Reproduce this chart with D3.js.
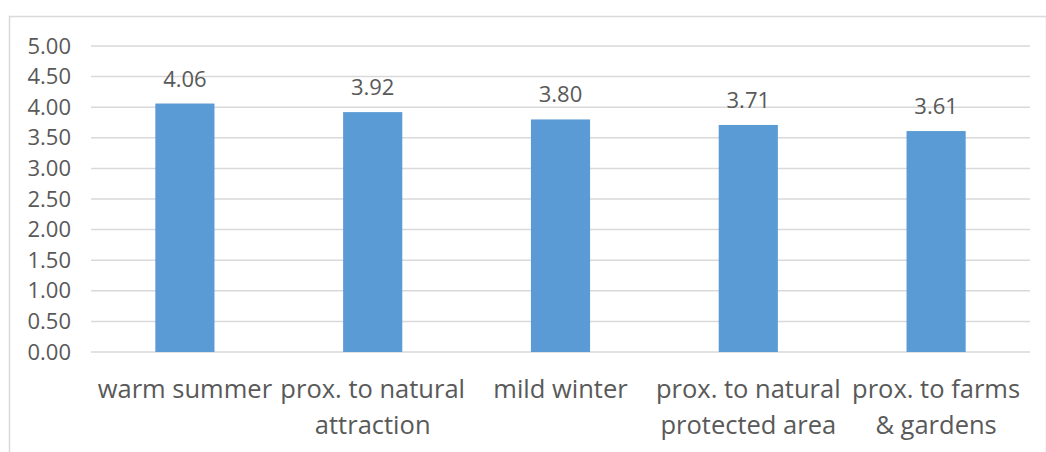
<!DOCTYPE html>
<html>
<head>
<meta charset="utf-8">
<script src="https://cdn.jsdelivr.net/npm/d3@7"></script>
<style>
  html, body { margin: 0; padding: 0; background: #fff; }
  svg { display: block; }
  text { font-family: "Open Sans", "Noto Sans", sans-serif; fill: #595959; }
</style>
</head>
<body>
<svg id="chart" width="1046" height="452"></svg>
<script>
// Mean ratings per attraction factor
const categories = [
  ["warm summer"],
  ["prox. to natural", "attraction"],
  ["mild winter"],
  ["prox. to natural", "protected area"],
  ["prox. to farms", "& gardens"]
];
const values = [4.06, 3.92, 3.80, 3.71, 3.61];
const yTicks = [0, 0.5, 1, 1.5, 2, 2.5, 3, 3.5, 4, 4.5, 5];

const svg = d3.select("#chart");
const W = 1046, H = 452;
const plot = { left: 91, right: 1030, top: 46, bottom: 352 };

// outer chart frame
svg.append("rect")
  .attr("x", 9.5).attr("y", 16.5)
  .attr("width", W - 9).attr("height", H)
  .attr("fill", "none").attr("stroke", "#d9d9d9").attr("stroke-width", 1.5);

const x = d3.scaleBand()
  .domain(d3.range(values.length))
  .range([plot.left, plot.right])
  .paddingInner(0.685).paddingOuter(0.3425);

const y = d3.scaleLinear().domain([0, 5]).range([plot.bottom, plot.top]);

// gridlines
svg.append("g")
  .selectAll("line")
  .data(yTicks)
  .join("line")
  .attr("x1", plot.left).attr("x2", plot.right)
  .attr("y1", d => y(d)).attr("y2", d => y(d))
  .attr("stroke", "#d9d9d9").attr("stroke-width", 1.5);

// y axis labels
const yAxis = d3.axisLeft(y).tickValues(yTicks).tickFormat(d3.format(".2f")).tickSize(0).tickPadding(0);
const yg = svg.append("g").attr("transform", `translate(71,0)`).call(yAxis);
yg.select(".domain").remove();
yg.attr("font-size", 22).attr("font-family", null);
yg.selectAll("text")
  .attr("font-size", 22)
  .attr("fill", "#595959");

// bars
svg.append("g")
  .selectAll("rect")
  .data(values)
  .join("rect")
  .attr("x", (d, i) => x(i))
  .attr("width", x.bandwidth())
  .attr("y", d => y(d))
  .attr("height", d => y(0) - y(d))
  .attr("fill", "#5b9bd5");

// value labels
svg.append("g")
  .selectAll("text")
  .data(values)
  .join("text")
  .attr("x", (d, i) => x(i) + x.bandwidth() / 2)
  .attr("y", d => y(d) - 17)
  .attr("text-anchor", "middle")
  .attr("font-size", 22)
  .text(d => d3.format(".2f")(d));

// category labels
const cg = svg.append("g")
  .selectAll("text")
  .data(categories)
  .join("text")
  .attr("x", (d, i) => x(i) + x.bandwidth() / 2)
  .attr("y", 398)
  .attr("text-anchor", "middle")
  .attr("font-size", 25.5);
cg.selectAll("tspan")
  .data(d => d)
  .join("tspan")
  .attr("x", function () { return d3.select(this.parentNode).attr("x"); })
  .attr("dy", (d, i) => i === 0 ? 0 : 35.5)
  .text(d => d);
</script>
</body>
</html>
